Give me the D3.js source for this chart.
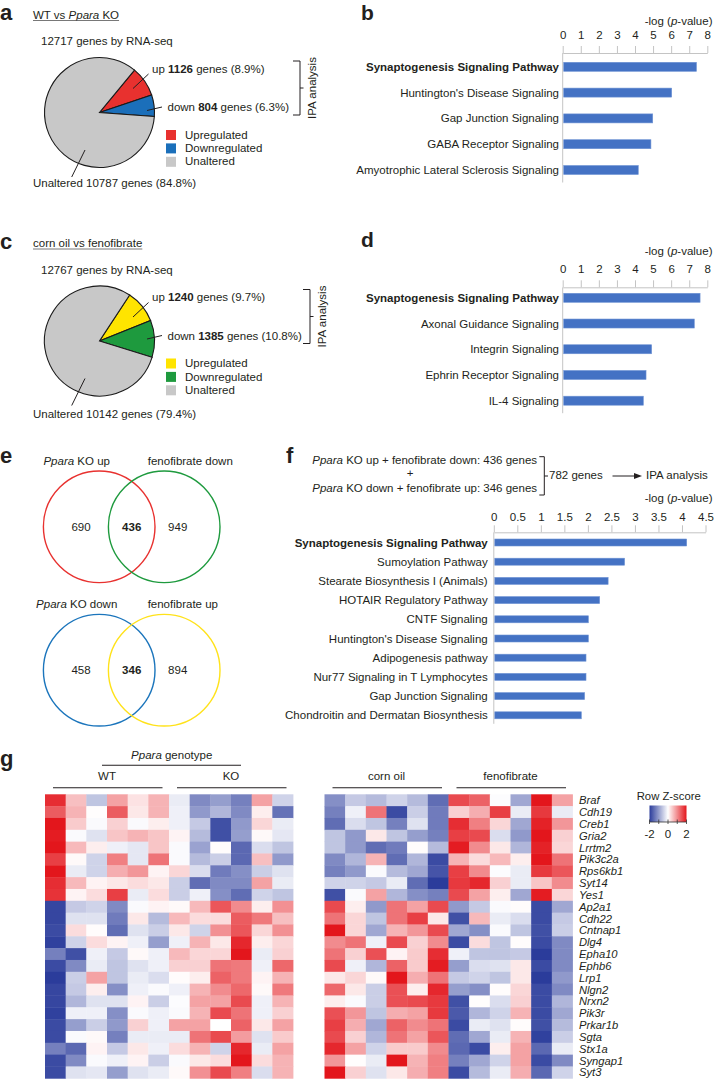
<!DOCTYPE html>
<html><head><meta charset="utf-8">
<script src="https://cdn.jsdelivr.net/npm/d3@7"></script>
<style>
body{margin:0;background:#fff}
svg{display:block}
text{font-family:"Liberation Sans",Arial,Helvetica,sans-serif;fill:#231f20;white-space:pre}
</style>
</head><body>
<svg id="fig" width="714" height="1080"></svg>
<script>
// ---------------- DATA ----------------
const pieLegend = ["Upregulated", "Downregulated", "Unaltered"];
const pieA_values = [1126, 804, 10787];
const pieA_pct = ["8.9%", "6.3%", "84.8%"];
const pieA_total = 12717;
const pieA_colors = ["#e8312f", "#1b6fba", "#c8c8c8"];
const pieC_values = [1240, 1385, 10142];
const pieC_pct = ["9.7%", "10.8%", "79.4%"];
const pieC_total = 12767;
const pieC_colors = ["#ffe400", "#1e9a3e", "#c8c8c8"];

const pathwaysB = ["Synaptogenesis Signaling Pathway", "Huntington's Disease Signaling", "Gap Junction Signaling", "GABA Receptor Signaling", "Amyotrophic Lateral Sclerosis Signaling"];
const valuesB = [7.4, 6.03, 4.98, 4.88, 4.18];
const pathwaysD = ["Synaptogenesis Signaling Pathway", "Axonal Guidance Signaling", "Integrin Signaling", "Ephrin Receptor Signaling", "IL-4 Signaling"];
const valuesD = [7.6, 7.28, 4.92, 4.61, 4.46];
const pathwaysF = ["Synaptogenesis Signaling Pathway", "Sumoylation Pathway", "Stearate Biosynthesis I (Animals)", "HOTAIR Regulatory Pathway", "CNTF Signaling", "Huntington's Disease Signaling", "Adipogenesis pathway", "Nur77 Signaling in T Lymphocytes", "Gap Junction Signaling", "Chondroitin and Dermatan Biosynthesis"];
const valuesF = [4.1, 2.78, 2.43, 2.25, 2.01, 2.01, 1.96, 1.96, 1.93, 1.86];
const ticksBD = [0, 1, 2, 3, 4, 5, 6, 7, 8];
const ticksF = [0, 0.5, 1, 1.5, 2, 2.5, 3, 3.5, 4, 4.5];

const vennTopSets = ["Ppara KO up", "fenofibrate down"];
const vennTopCounts = [690, 436, 949];
const vennBottomSets = ["Ppara KO down", "fenofibrate up"];
const vennBottomCounts = [458, 346, 894];

const genes = ["Braf","Cdh19","Creb1","Gria2","Lrrtm2","Pik3c2a","Rps6kb1","Syt14","Yes1","Ap2a1","Cdh22","Cntnap1","Dlg4","Epha10","Ephb6","Lrp1","Nlgn2","Nrxn2","Pik3r","Prkar1b","Sgta","Stx1a","Syngap1","Syt3"];
const groupsLeft = ["WT", "KO"];
const groupsRight = ["corn oil", "fenofibrate"];
const zLeft = [
[1.8,0.55,-0.6,0.8,0.25,0.65,-0.2,-1.2,-1.0,-1.3,0.8,-0.45],
[1.4,0.65,0.02,1.4,0.2,0.65,-0.15,-1.05,-0.75,-1.2,0.15,-1.45],
[2.0,0.45,-0.05,0.4,-0.05,0.15,-0.15,-0.55,-1.8,-1.05,0.35,-0.2],
[1.95,-0.05,-0.3,0.5,0.65,0.5,0.1,-0.7,-1.8,-1.0,0.05,-0.25],
[2.0,0.6,0.15,-0.15,-0.25,0.5,-0.05,-0.95,0.03,-1.55,-0.35,-0.6],
[1.65,0.05,-0.45,1.1,-0.25,1.2,-0.05,-0.7,-0.5,-1.55,0.55,-1.05],
[2.0,-0.2,-0.45,0.7,0.9,0.1,0.35,-0.35,-1.35,-1.15,-0.5,-0.3],
[1.8,0.6,0.1,0.2,0.3,0.2,-0.5,-1.5,-1.2,-1.2,0.8,-0.2],
[1.75,0.1,0.3,1.65,-0.2,0.3,-0.5,-0.15,-1.15,-1.5,-0.45,-0.6],
[-1.9,-0.55,-0.45,-1.2,-0.05,0.1,0.05,0.6,1.45,1.0,0.15,0.95],
[-1.9,-0.3,-0.3,-1.35,0.2,-0.7,0.6,0.3,0.3,1.4,1.15,0.55],
[-1.85,0.3,0.03,-1.5,-0.3,-0.5,0.2,-0.45,0.95,1.45,0.35,0.95],
[-1.95,-0.45,0.3,0.1,-0.15,-1.0,-0.15,0.65,0.2,1.85,0.15,0.35],
[-1.3,-1.8,-0.15,-0.55,0.05,-0.15,0.6,0.35,0.35,2.0,-0.2,0.4],
[-1.85,-1.2,-0.2,-0.6,-0.3,-0.15,0.4,0.4,1.2,1.15,-0.15,1.3],
[-2.0,-0.5,0.8,-0.6,-0.2,-0.35,0.03,0.15,1.35,1.15,0.1,0.65],
[-1.9,-0.55,0.15,-1.15,-0.15,-0.05,-0.15,0.65,1.0,1.3,0.05,1.15],
[-1.9,-0.75,-0.3,-0.3,0.1,-0.5,-0.03,0.8,0.8,1.55,-0.15,0.65],
[-1.95,-0.15,-0.15,-1.15,-0.05,-0.15,-0.05,0.65,1.55,1.2,-0.15,0.4],
[-1.85,-1.0,-0.5,-1.05,0.4,-0.15,0.8,0.8,0.0,1.35,0.2,0.8],
[-1.85,-0.05,0.05,-1.3,-0.2,-0.2,-0.2,1.2,1.55,0.85,-0.3,0.45],
[-1.3,-1.55,0.1,-0.55,0.2,-0.15,0.3,0.65,-0.45,1.85,-0.2,0.8],
[-1.85,-1.2,-0.05,-0.15,0.1,-0.5,-0.05,0.2,0.3,2.0,0.3,0.65],
[-1.85,-0.3,-0.25,-1.0,-0.3,-0.2,0.05,0.95,1.55,1.1,-0.35,0.65]
];
const zRight = [
[-1.15,-0.55,-0.7,-0.45,-0.7,-1.5,1.55,1.35,-0.03,-0.9,2.0,0.8],
[-1.3,-0.15,1.2,-1.85,-0.5,-1.35,0.4,0.7,1.65,-0.2,1.7,-0.2],
[-1.5,-0.35,-0.6,-1.3,-0.3,-1.35,1.8,1.1,0.35,-0.9,1.9,0.9],
[-0.6,-1.05,0.2,-0.6,-1.0,-1.3,1.65,1.55,-0.35,-1.05,2.0,0.4],
[-0.6,-1.05,-1.5,-1.35,0.03,-0.7,1.95,1.0,0.2,-0.75,1.9,0.35],
[-1.2,-0.75,0.65,-1.5,-0.75,-1.85,0.65,0.3,0.6,0.15,2.0,1.2],
[-1.3,-1.05,-0.05,-0.7,-0.9,-1.75,1.65,1.0,-0.03,-0.2,1.7,1.45],
[-0.45,-0.45,-0.55,-0.2,-1.5,-2.0,1.7,1.85,0.4,-0.2,0.5,1.0],
[-1.8,-0.05,0.8,-0.75,-1.15,-1.3,1.55,0.8,0.15,-0.9,1.95,0.35],
[1.55,0.15,-1.05,1.2,0.8,1.55,-1.05,-0.55,-0.05,0.03,-1.85,-0.9],
[1.2,0.35,-0.6,1.2,1.65,0.2,-1.8,0.6,-0.2,-0.35,-1.85,-0.55],
[2.0,0.35,-0.9,0.65,0.9,1.55,-0.9,-1.15,-0.05,-0.6,-1.8,-0.5],
[1.0,1.2,-0.15,1.55,0.4,1.0,-1.85,0.3,-0.6,0.03,-1.85,-1.2],
[1.2,0.4,1.5,0.1,0.45,1.8,-0.15,-0.6,-0.6,-0.55,-2.0,-1.2],
[1.55,-0.15,-0.75,1.35,0.45,1.95,-1.0,-0.35,-0.3,0.2,-1.85,-1.2],
[0.2,0.35,0.05,2.0,0.7,1.2,-0.55,-0.45,-0.6,0.2,-2.0,-1.05],
[1.3,0.2,-0.5,1.5,0.15,1.85,-1.0,-1.15,0.03,0.35,-1.85,-1.2],
[0.15,-0.05,-0.5,1.5,1.55,1.7,-1.8,0.02,-0.35,0.4,-1.85,-0.75],
[1.5,0.9,-0.6,0.7,0.8,1.7,-1.7,-0.75,-0.45,0.65,-1.85,-0.9],
[1.65,0.7,-0.9,1.35,1.0,1.2,-1.85,-0.2,-0.3,0.03,-1.8,-0.7],
[1.55,0.4,-0.75,1.2,0.8,1.45,-1.5,-0.9,-0.2,0.65,-1.95,-0.5],
[1.85,0.8,-0.45,0.45,0.45,1.0,-1.55,-1.85,0.15,0.8,-1.55,-0.2],
[0.9,0.02,-0.2,2.0,0.65,1.1,-1.3,-0.9,-0.45,0.8,-1.85,-1.2],
[2.0,0.4,-0.3,0.2,0.7,1.1,-1.85,-0.7,-0.2,0.7,-1.55,-0.45]
];
const zTicks = [-2, 0, 2];

// ---------------- HELPERS ----------------
const svg = d3.select("#fig");
const INK = "#231f20";
const FS = 11.5;

function rich(parent, x, y, parts, opts = {}) {
  const t = parent.append("text").attr("x", x).attr("y", y)
    .attr("font-size", opts.size || FS).attr("text-anchor", opts.anchor || "start");
  if (opts.transform) t.attr("transform", opts.transform);
  parts.forEach(p => {
    const [s, st] = Array.isArray(p) ? p : [p, ""];
    const ts = t.append("tspan").text(s);
    if (st.includes("i")) ts.attr("font-style", "italic");
    if (st.includes("b")) ts.attr("font-weight", "bold");
  });
  return t;
}
function line(parent, x1, y1, x2, y2, color = INK, w = 1) {
  return parent.append("line").attr("x1", x1).attr("y1", y1).attr("x2", x2).attr("y2", y2)
    .attr("stroke", color).attr("stroke-width", w);
}
function letter(ch, x, y, size = 22) {
  svg.append("text").attr("x", x).attr("y", y).attr("font-size", size).attr("font-weight", "bold").text(ch);
}
function underlined(parts, x, y) {
  const t = rich(svg, x, y, parts);
  const w = t.node().getComputedTextLength();
  line(svg, x, y + 2, x + w, y + 2, "#555", 0.8);
}

// ---------------- PIE PANELS ----------------
function piePanel(o) {
  const g = svg.append("g");
  letter(o.letter, 0, o.dy + 20);
  underlined(o.title, 33, o.dy + 18.5);
  rich(g, 41, o.dy + 45, [`${o.total} genes by RNA-seq`]);
  const arcs = d3.pie().sort(null).startAngle(o.start).endAngle(o.start + 2 * Math.PI)(o.values);
  const arc = d3.arc().innerRadius(0).outerRadius(55);
  g.append("g").attr("transform", `translate(99.5,${o.dy + 112.5})`)
    .selectAll("path").data(arcs).join("path")
    .attr("d", arc).attr("fill", (d, i) => o.colors[i])
    .attr("stroke", "#1a1a1a").attr("stroke-width", 1.1);
  line(g, 133, o.dy + 88.5, 148.5, o.dy + 74);
  rich(g, 152, o.dy + 72.7, ["up ", [String(o.values[0]), "b"], ` genes (${o.pct[0]})`]);
  line(g, 147, o.dy + 110.5, 162, o.dy + 107);
  rich(g, 167.5, o.dy + 111, ["down ", [String(o.values[1]), "b"], ` genes (${o.pct[1]})`]);
  line(g, 71.7, o.dy + 177, 85, o.dy + 150);
  rich(g, 33, o.dy + o.unY, [`Unaltered ${o.values[2]} genes (${o.pct[2]})`]);
  pieLegend.forEach((lab, i) => {
    g.append("rect").attr("x", 166).attr("y", o.dy + 130 + i * 13.4).attr("width", 10).attr("height", 10)
      .attr("fill", o.colors[i]);
    rich(g, 185, o.dy + 138.6 + i * 13.4, [lab]);
  });
  const bx = o.bx;
  g.append("path").attr("d", `M${bx - 7},${o.dy + 61}H${bx}V${o.dy + 115}H${bx - 7}M${bx},${o.dy + 88}H${bx + 3.5}`)
    .attr("fill", "none").attr("stroke", INK).attr("stroke-width", 1);
  rich(g, 0, 0, ["IPA analysis"], { anchor: "middle", transform: `translate(${bx + 16},${o.dy + 88}) rotate(-90)` });
}
piePanel({ letter: "a", dy: 0, title: ["WT vs ", ["Ppara", "i"], " KO"], total: pieA_total,
  values: pieA_values, pct: pieA_pct, colors: pieA_colors, start: 0.69, bx: 300, unY: 186.5 });
piePanel({ letter: "c", dy: 228.5, title: ["corn oil vs fenofibrate"], total: pieC_total,
  values: pieC_values, pct: pieC_pct, colors: pieC_colors, start: 0.58, bx: 310, unY: 189 });

// ---------------- BAR PANELS ----------------
function barPanel(o) {
  const g = svg.append("g");
  const x = d3.scaleLinear().domain([o.ticks[0], o.ticks[o.ticks.length - 1]]).range([o.x0, o.x1]);
  const y = d3.scalePoint().domain(o.names).range([o.c0, o.c1]);
  const ax = g.append("g").attr("transform", `translate(0,${o.axisY})`)
    .call(d3.axisTop(x).tickValues(o.ticks).tickSize(7).tickSizeOuter(0).tickPadding(o.pad).tickFormat(d3.format("")));
  ax.select(".domain").attr("stroke", "#c4c4c4");
  ax.selectAll(".tick line").attr("stroke", "#c4c4c4");
  ax.selectAll(".tick text").attr("font-size", FS).attr("fill", INK)
    .attr("font-family", '"Liberation Sans",Arial,sans-serif');
  line(g, o.x0, o.axisY, o.x0, o.c1 + o.bh / 2 + o.tail, "#c4c4c4", 1);
  g.selectAll("rect.bar").data(o.values).join("rect").attr("class", "bar")
    .attr("x", x(0) + 1).attr("y", (d, i) => y(o.names[i]) - o.bh / 2)
    .attr("width", d => x(d) - x(0) - 1).attr("height", o.bh)
    .attr("fill", "#4472c4").attr("stroke", "#6f93d4").attr("stroke-width", 0.6);
  o.names.forEach((n, i) => {
    rich(g, o.labelX, y(n) + 4, [i === 0 ? [n, "b"] : n], { anchor: "end" });
  });
  rich(g, 712.5, o.titleY, ["-log (", ["p", "i"], "-value)"], { anchor: "end" });
}
barPanel({ names: pathwaysB, values: valuesB, ticks: ticksBD, x0: 562.7, x1: 707.3, axisY: 53,
  pad: 7, c0: 66.8, c1: 170, bh: 9, labelX: 559, titleY: 25, tail: 8 });
letter("b", 361, 19.5, 21);
barPanel({ names: pathwaysD, values: valuesD, ticks: ticksBD, x0: 562.7, x1: 707.3, axisY: 287.3,
  pad: 7.5, c0: 297.8, c1: 400.7, bh: 9, labelX: 559, titleY: 255, tail: 8 });
letter("d", 361, 247, 21);
barPanel({ names: pathwaysF, values: valuesF, ticks: ticksF, x0: 493.8, x1: 705.5, axisY: 532.3,
  pad: 4.6, c0: 542.5, c1: 715.3, bh: 7, labelX: 487.7, titleY: 502.3, tail: 5 });
letter("f", 286, 463);

rich(svg, 312.3, 464, [["Ppara", "i"], " KO up + fenofibrate down: 436 genes"]);
rich(svg, 410, 477, ["+"], { anchor: "middle" });
rich(svg, 312.3, 491.7, [["Ppara", "i"], " KO down + fenofibrate up: 346 genes"]);
svg.append("path").attr("d", "M539.3,456.7H544.3V495H539.3M544.3,476H548")
  .attr("fill", "none").attr("stroke", INK).attr("stroke-width", 1);
rich(svg, 549, 478.5, [`${vennTopCounts[1] + vennBottomCounts[1]} genes`]);
line(svg, 612.5, 476, 636, 476);
svg.append("path").attr("d", "M642,476L634,473L634,479Z").attr("fill", INK);
rich(svg, 646, 478.5, ["IPA analysis"]);

// ---------------- VENN ----------------
letter("e", 0, 463);
function venn(cy, labY, numY, sets, counts, colors) {
  const g = svg.append("g");
  const cxs = [99.2, 164.2];
  cxs.forEach((cx, i) => g.append("circle").attr("cx", cx).attr("cy", cy).attr("r", 55.8)
    .attr("fill", "none").attr("stroke", colors[i]).attr("stroke-width", 1.4));
  const [s1a, ...s1b] = sets[0].split(" ");
  rich(g, 76.7, labY, [[s1a, "i"], " " + s1b.join(" ")], { anchor: "middle" });
  rich(g, sets[1] === "fenofibrate down" ? 190.3 : 182.8, labY, [sets[1]], { anchor: "middle" });
  const nx = [81, 131.7, 177.7];
  counts.forEach((c, i) => rich(g, nx[i], numY, [i === 1 ? [String(c), "b"] : String(c)], { anchor: "middle" }));
}
venn(526.8, 464.5, 531, vennTopSets, vennTopCounts, ["#e8312f", "#1e9a3e"]);
venn(670.2, 607.5, 674.3, vennBottomSets, vennBottomCounts, ["#1b75bc", "#ffe21a"]);

// ---------------- HEATMAP ----------------
letter("g", 0, 766);
const color = d3.scaleLinear().domain([-2, 0, 2]).range(["#2b3c9b", "#ffffff", "#e3161c"]).clamp(true);
const yH = d3.scaleBand().domain(genes).range([794.3, 1078.3]);
const xL = d3.scaleBand().domain(d3.range(12)).range([45, 293]);
const xR = d3.scaleBand().domain(d3.range(12)).range([324.5, 572.5]);
function heat(mat, xs) {
  const g = svg.append("g");
  mat.forEach((row, r) => {
    g.selectAll(null).data(row).join("rect")
      .attr("x", (d, c) => xs(c)).attr("y", yH(genes[r]))
      .attr("width", xs.bandwidth() + 0.4).attr("height", yH.bandwidth() + 0.4)
      .attr("fill", d => color(d));
  });
}
heat(zLeft, xL);
heat(zRight, xR);
function groupHeader(xs, groups) {
  groups.forEach((gname, i) => {
    const a = xs(i * 6), b = xs(i * 6 + 5) + xs.bandwidth();
    line(svg, a + 8, 787.7, b - 6.5, 787.7, INK, 1.1);
    rich(svg, (a + b) / 2, 780, [gname], { anchor: "middle" });
  });
}
groupHeader(xL, groupsLeft);
groupHeader(xR, groupsRight);
line(svg, 102, 765.3, 241, 765.3, INK, 1.1);
rich(svg, 171.7, 759.3, [["Ppara", "i"], " genotype"], { anchor: "middle" });
genes.forEach(gn => {
  svg.append("text").attr("x", 579).attr("y", yH(gn) + yH.bandwidth() / 2 + 4)
    .attr("font-size", 11.2).attr("font-style", "italic").text(gn);
});
rich(svg, 636.7, 800, ["Row Z-score"], { size: 11.3 });
const zx = d3.scaleLinear().domain([-2, 2]).range([649.5, 686.5]);
const grad = svg.append("defs").append("linearGradient").attr("id", "zgrad");
d3.range(-2, 2.01, 0.5).forEach(v => grad.append("stop")
  .attr("offset", (v + 2) / 4).attr("stop-color", color(v)));
svg.append("rect").attr("x", zx(-2)).attr("y", 805.5).attr("width", zx(2) - zx(-2)).attr("height", 16.5)
  .attr("fill", "url(#zgrad)");
line(svg, zx(-2), 822, zx(2), 822, "#333", 0.8);
[-2, -1, 0, 1, 2].forEach(v => line(svg, zx(v), 819.5, zx(v), 824, "#333", 0.8));
zTicks.forEach(v => rich(svg, zx(v), 838.3, [String(v)], { anchor: "middle", size: 11.5 }));
</script>
</body></html>
